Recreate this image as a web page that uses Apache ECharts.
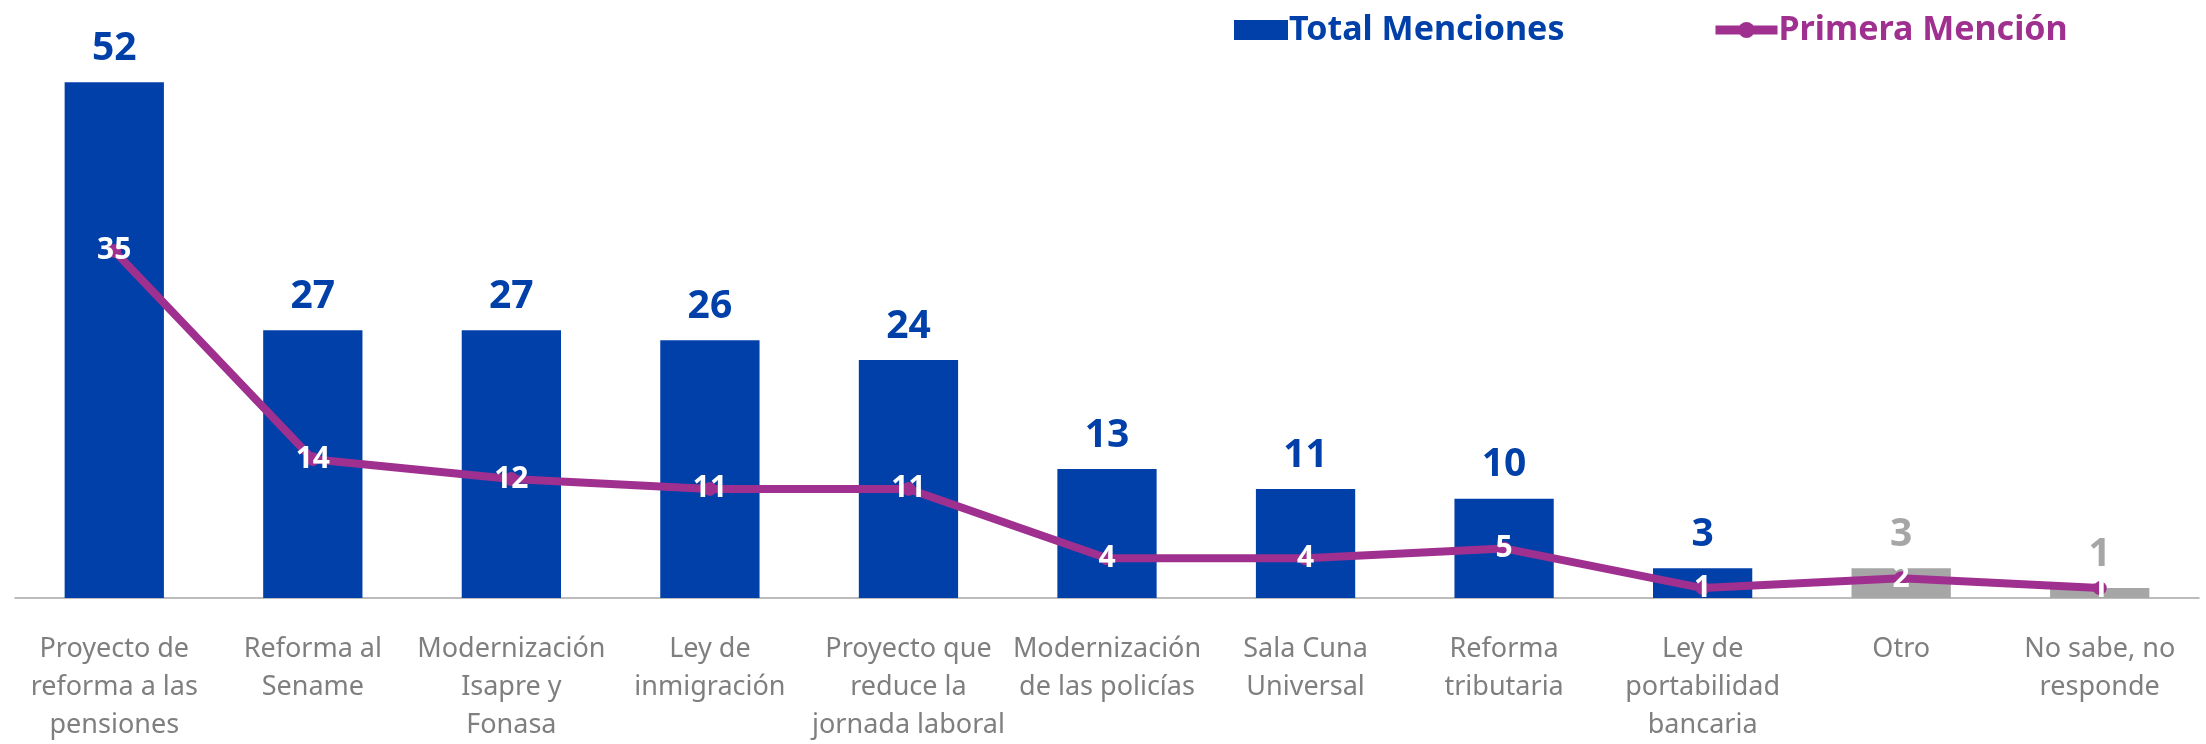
<!DOCTYPE html>
<html>
<head>
<meta charset="utf-8">
<script src="https://cdn.jsdelivr.net/npm/echarts@6/dist/echarts.min.js"></script>
<style>
  html, body { margin: 0; padding: 0; background: #fff; }
  #chart { width: 2206px; height: 744px; }
</style>
</head>
<body>
<div id="chart"></div>
<script>
const categories = [
  'Proyecto de\nreforma a las\npensiones',
  'Reforma al\nSename',
  'Modernización\nIsapre y\nFonasa',
  'Ley de\ninmigración',
  'Proyecto que\nreduce la\njornada laboral',
  'Modernización\nde las policías',
  'Sala Cuna\nUniversal',
  'Reforma\ntributaria',
  'Ley de\nportabilidad\nbancaria',
  'Otro',
  'No sabe, no\nresponde'
];
const totalMenciones = [52, 27, 27, 26, 24, 13, 11, 10, 3, 3, 1];
const primeraMencion = [35, 14, 12, 11, 11, 4, 4, 5, 1, 2, 1];
// categorias que van en gris
const grayCategories = ['Otro', 'No sabe, no\nresponde'];

const BLUE = '#0040A8';
const GRAY = '#A6A6A6';
const PURPLE = '#A0308F';

const barData = totalMenciones.map((v, i) => {
  const c = grayCategories.includes(categories[i]) ? GRAY : BLUE;
  return { value: v, itemStyle: { color: c }, label: { color: c } };
});

const myChart = echarts.init(document.getElementById('chart'));
myChart.setOption({
  animation: false,
  textStyle: { fontFamily: 'Noto Sans' },
  legend: [
    {
      top: 8,
      left: 1229,
      itemWidth: 54,
      itemHeight: 20,
      textStyle: { fontSize: 34, fontWeight: 'bold', color: BLUE, padding: [0, 0, 0, -4] },
      data: [{ name: 'Total Menciones', icon: 'rect' }]
    },
    {
      top: 8,
      left: 1706,
      itemWidth: 62,
      itemHeight: 20,
      lineStyle: { width: 9 },
      textStyle: { fontSize: 34, fontWeight: 'bold', color: PURPLE, padding: [0, 0, 0, -4] },
      data: [{ name: 'Primera Mención' }]
    }
  ],
  grid: {
    left: 15,
    right: 7,
    top: 3,
    bottom: 146
  },
  xAxis: {
    type: 'category',
    data: categories,
    axisLine: { lineStyle: { color: '#A6A6A6', width: 1.5 } },
    axisTick: { length: 10, lineStyle: { color: '#A6A6A6', width: 1.5 } },
    axisLabel: {
      interval: 0,
      margin: 32,
      color: '#7F7F7F',
      fontSize: 27,
      lineHeight: 38
    }
  },
  yAxis: {
    type: 'value',
    min: 0,
    max: 60,
    show: false
  },
  series: [
    {
      name: 'Total Menciones',
      type: 'bar',
      barWidth: '50%',
      itemStyle: { color: BLUE },
      label: {
        show: true,
        position: 'top',
        distance: 14,
        fontSize: 39,
        fontWeight: 'bold'
      },
      data: barData
    },
    {
      name: 'Primera Mención',
      type: 'line',
      symbol: 'circle',
      symbolSize: 14,
      z: 5,
      lineStyle: { color: PURPLE, width: 8 },
      itemStyle: { color: PURPLE },
      label: {
        show: true,
        position: 'inside',
        color: '#fff',
        fontSize: 30,
        fontWeight: 'bold'
      },
      data: primeraMencion
    }
  ]
});
</script>
</body>
</html>
